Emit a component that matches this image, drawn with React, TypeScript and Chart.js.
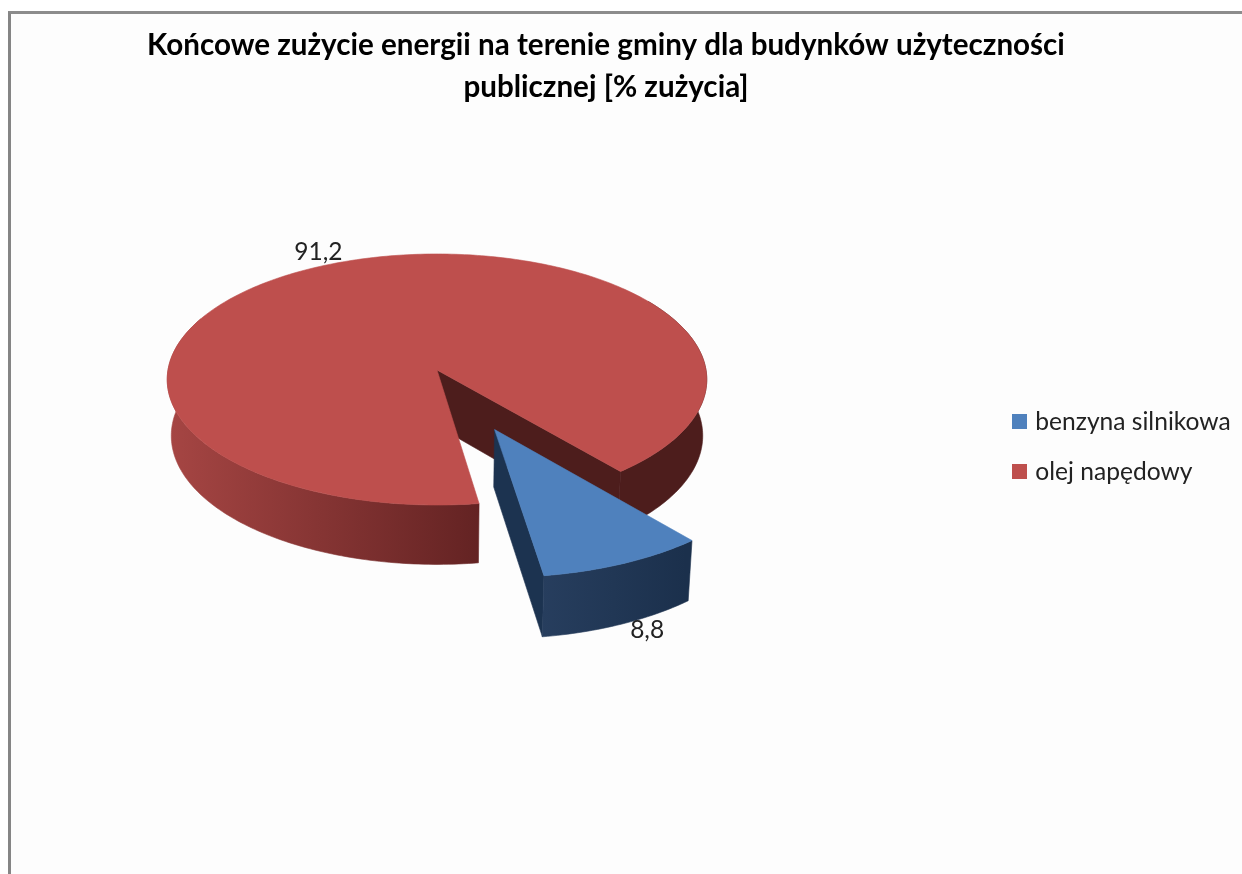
import React, { useEffect, useRef } from "react";
import { Chart, registerables } from "chart.js";

Chart.register(...registerables);

const TITLE_LINES = [
  "Końcowe zużycie energii na terenie gminy dla budynków użyteczności",
  "publicznej [% zużycia]",
];
const CATEGORIES = ["benzyna silnikowa", "olej napędowy"];
const VALUES = [8.8, 91.2];
const VALUE_LABELS = ["8,8", "91,2"];
const TOP_COLORS = ["#4F81BD", "#BE4F4D"];

const CX = 437, CY = 370, AX = 269, BY = 124.8, K = 0.0757;
const DEPTH = 56, SX = 0.985, SY = 1.025;
const EXPLODE = 0.505;
const BLUE_R = 1.015;
const deg = Math.PI / 180;

type Pt = [number, number];
function project(angle: number, r: number, ox: number, oy: number, lower: boolean): Pt {
  const u = r * Math.cos(angle) + ox;
  const v = r * Math.sin(angle) + oy;
  const w = 1 - K * v;
  const px = (AX * u) / w;
  const py = (BY * v) / w;
  return lower ? [CX + SX * px, CY + DEPTH + SY * py] : [CX + px, CY + py];
}

function fillPoly(ctx: CanvasRenderingContext2D, pts: Pt[], fill: string | CanvasGradient) {
  ctx.beginPath();
  pts.forEach((p, i) => (i ? ctx.lineTo(p[0], p[1]) : ctx.moveTo(p[0], p[1])));
  ctx.closePath();
  ctx.fillStyle = fill;
  ctx.strokeStyle = fill;
  ctx.lineWidth = 0.6;
  ctx.fill();
  ctx.stroke();
}

function rim(a0: number, a1: number, r: number, ox: number, oy: number, lower: boolean): Pt[] {
  const n = Math.max(4, Math.ceil(Math.abs(a1 - a0) / deg));
  const out: Pt[] = [];
  for (let i = 0; i <= n; i++) out.push(project(a0 + ((a1 - a0) * i) / n, r, ox, oy, lower));
  return out;
}

function wall(a0: number, a1: number, r: number, ox: number, oy: number): Pt[] {
  return [...rim(a0, a1, r, ox, oy, false), ...rim(a0, a1, r, ox, oy, true).reverse()];
}

function radial(a: number, r: number, ox: number, oy: number): Pt[] {
  return [
    project(0, 0, ox, oy, false),
    project(a, r, ox, oy, false),
    project(a, r, ox, oy, true),
    project(0, 0, ox, oy, true),
  ];
}

function swatch(color: string): HTMLCanvasElement {
  const c = document.createElement("canvas");
  c.width = 15;
  c.height = 15;
  const g = c.getContext("2d") as CanvasRenderingContext2D;
  g.fillStyle = color;
  g.fillRect(0, 0, 15, 15);
  return c;
}

const pie3d = {
  id: "pie3d",
  afterLayout(chart: any) {
    chart.titleBlock.right = chart.titleBlock.left + 2 * 606;
    const lg = chart.legend;
    const w = lg.right - lg.left;
    lg.left = 989.5;
    lg.right = lg.left + w;
    lg.top = 384;
  },
  beforeDatasetsDraw(chart: any) {
    const ctx: CanvasRenderingContext2D = chart.ctx;
    const [blue, red] = chart.getDatasetMeta(0).data as any[];
    ctx.save();

    // red slice
    const rs = red.startAngle;
    const re = red.endAngle;
    fillPoly(ctx, radial(re, 1, 0, 0), "#4D1D1C");
    fillPoly(ctx, wall(re - 85 * deg, re, 1, 0, 0), "#4D1D1C");
    const gr = ctx.createLinearGradient(172, 0, 477, 0);
    gr.addColorStop(0, "#A54543");
    gr.addColorStop(1, "#642323");
    fillPoly(ctx, wall(rs, 205 * deg, 1, 0, 0), gr);
    fillPoly(ctx, [project(0, 0, 0, 0, false), ...rim(rs, re, 1, 0, 0, false)], TOP_COLORS[1]);

    // blue slice, exploded along its middle angle
    const bs = blue.startAngle;
    const be = blue.endAngle;
    const mid = (bs + be) / 2;
    const ox = EXPLODE * Math.cos(mid);
    const oy = EXPLODE * Math.sin(mid);
    fillPoly(ctx, radial(be, BLUE_R, ox, oy), "#1C3350");
    const gb = ctx.createLinearGradient(541, 0, 686, 0);
    gb.addColorStop(0, "#273E5E");
    gb.addColorStop(1, "#1B304C");
    fillPoly(ctx, wall(bs, be, BLUE_R, ox, oy), gb);
    fillPoly(ctx, [project(0, 0, ox, oy, false), ...rim(bs, be, BLUE_R, ox, oy, false)], TOP_COLORS[0]);

    // value labels
    ctx.font = "24.5px Lato";
    ctx.fillStyle = "#222222";
    ctx.textAlign = "center";
    ctx.textBaseline = "middle";
    const redMid = (rs + re) / 2;
    const pr = project(redMid, 1.1, 0, 0, false);
    ctx.fillText(VALUE_LABELS[1], pr[0] - 6, pr[1] - 1);
    const pb = project(mid, 1, ox, oy, true);
    ctx.fillText(VALUE_LABELS[0], pb[0] + 28, pb[1] + 8);

    ctx.restore();
    return false;
  },
};

export default function App() {
  const ref = useRef<HTMLCanvasElement>(null);
  useEffect(() => {
    const chart = new Chart(ref.current as HTMLCanvasElement, {
      type: "pie",
      data: {
        labels: CATEGORIES,
        datasets: [
          {
            data: VALUES,
            backgroundColor: TOP_COLORS,
            borderWidth: 0,
            offset: [40, 0],
          },
        ],
      },
      options: {
        responsive: false,
        animation: false,
        rotation: 140,
        layout: { padding: 0 },
        plugins: {
          tooltip: { enabled: false },
          title: {
            display: true,
            text: TITLE_LINES,
            color: "#000000",
            font: { family: "Lato", size: 29.6, weight: "bold", lineHeight: 1.42 },
            padding: { top: 24, bottom: 10 },
          },
          legend: {
            display: true,
            position: "right",
            align: "start",
            labels: {
              color: "#222222",
              font: { family: "Lato", size: 24.6 },
              usePointStyle: true,
              pointStyleWidth: 8,
              boxHeight: 15,
              padding: 25.5,
              generateLabels: (c: any) =>
                (Chart as any).overrides.pie.plugins.legend.labels
                  .generateLabels(c)
                  .map((item: any, i: number) => ({ ...item, pointStyle: swatch(TOP_COLORS[i]) })),
            },
          },
        },
      },
      plugins: [pie3d],
    } as any);
    return () => chart.destroy();
  }, []);
  return (
    <div style={{ position: "absolute", left: 0, top: 0, width: 1242, height: 874, overflow: "hidden", background: "#FFFFFF" }}>
      <div
        style={{
          position: "absolute",
          left: 8,
          top: 11,
          right: 0,
          bottom: 0,
          background: "#FDFDFD",
          borderLeft: "3px solid #858585",
          borderTop: "3px solid #8C8C8C",
        }}
      />
      <canvas
        ref={ref}
        width={1242}
        height={874}
        style={{ position: "absolute", left: 0, top: 0, width: 1242, height: 874, filter: "blur(0.5px)" }}
      />
    </div>
  );
}
